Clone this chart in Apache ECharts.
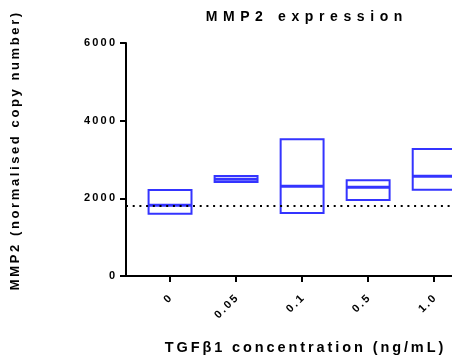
<!DOCTYPE html>
<html>
<head>
<meta charset="utf-8">
<script src="https://cdn.jsdelivr.net/npm/echarts@6/dist/echarts.min.js"></script>
<style>
  html, body { margin: 0; padding: 0; background: #fff; }
  #mmp2Chart { width: 452px; height: 358px; }
</style>
</head>
<body>
<div id="mmp2Chart"></div>
<script>
// TGFb1 doses
const categories = ['0', '0.05', '0.1', '0.5', '1.0']
// floating bars: min / median / max
const boxMin = [1600, 2420, 1620, 1960, 2220]
const boxMedian = [1820, 2490, 2310, 2285, 2570]
const boxMax = [2215, 2575, 3520, 2465, 3270]
// control median reference line
const baseline = 1820

const blue = '#3434ff'
const font = 'Liberation Sans, Arial, sans-serif'
// prism export spreads the letters out
const sp = (s, gap = '\u2009') => s.split('').join(gap)

const boxData = categories.map((c, i) => [i, boxMin[i], boxMedian[i], boxMax[i]])

const myChart = echarts.init(document.getElementById('mmp2Chart'))

const option = {
  animation: false,
  title: {
    text: sp('MMP2 expression', '\u2009\u2009'),
    left: 299,
    top: 5,
    textAlign: 'center',
    textStyle: { fontFamily: font, fontSize: 14, fontWeight: 'bold', color: '#000' }
  },
  grid: { left: 126, right: 0, top: 43, bottom: 82, outerBoundsMode: 'none' },
  xAxis: {
    type: 'value',
    min: -0.667,
    max: 4.27,
    name: sp('TGFβ1 concentration (ng/mL)'),
    nameLocation: 'middle',
    nameGap: 64,
    nameMoveOverlap: false,
    nameTextStyle: { fontFamily: font, fontSize: 14.5, fontWeight: 'bold', color: '#000', padding: [0, 0, 0, 30] },
    splitLine: { show: false },
    axisLine: { onZero: false, lineStyle: { color: '#000', width: 2 } },
    axisTick: { customValues: [0, 1, 2, 3, 4], length: 6, lineStyle: { color: '#000', width: 2 } },
    axisLabel: {
      customValues: [0, 1, 2, 3, 4],
      rotate: 45,
      margin: 21,
      fontFamily: font,
      fontSize: 11,
      fontWeight: 'bold',
      color: '#000',
      formatter: v => sp(categories[Math.round(v)])
    }
  },
  yAxis: {
    type: 'value',
    min: 0,
    max: 6000,
    interval: 2000,
    name: sp('MMP2 (normalised copy number)'),
    nameLocation: 'middle',
    nameGap: 104,
    nameMoveOverlap: false,
    nameTextStyle: { fontFamily: font, fontSize: 13, fontWeight: 'bold', color: '#000', padding: [0, 0, 0, 16] },
    splitLine: { show: false },
    axisLine: { show: true, onZero: false, lineStyle: { color: '#000', width: 2 } },
    axisTick: { show: true, length: 6, lineStyle: { color: '#000', width: 2 } },
    axisLabel: {
      margin: 11,
      fontFamily: font,
      fontSize: 11,
      fontWeight: 'bold',
      color: '#000',
      formatter: v => sp(String(v))
    }
  },
  series: [
    {
      type: 'line',
      z: 1,
      data: [],
      markLine: {
        silent: true,
        symbol: 'none',
        label: { show: false },
        lineStyle: { color: '#000', width: 2, type: [2, 4.7] },
        data: [{ yAxis: baseline }]
      }
    },
    {
      type: 'custom',
      z: 3,
      data: boxData,
      encode: { x: 0, y: [1, 2, 3] },
      renderItem: (params, api) => {
        const i = api.value(0)
        const w = api.size([0.65, 0])[0]
        const lo = api.coord([i, api.value(1)])
        const med = api.coord([i, api.value(2)])
        const hi = api.coord([i, api.value(3)])
        return {
          type: 'group',
          children: [
            {
              type: 'rect',
              shape: { x: lo[0] - w / 2, y: hi[1], width: w, height: lo[1] - hi[1] },
              style: { fill: '#fff', stroke: blue, lineWidth: 2 }
            },
            {
              type: 'line',
              shape: { x1: med[0] - w / 2, y1: med[1], x2: med[0] + w / 2, y2: med[1] },
              style: { stroke: blue, lineWidth: 3 }
            }
          ]
        }
      }
    }
  ]
}

myChart.setOption(option)
</script>
</body>
</html>
